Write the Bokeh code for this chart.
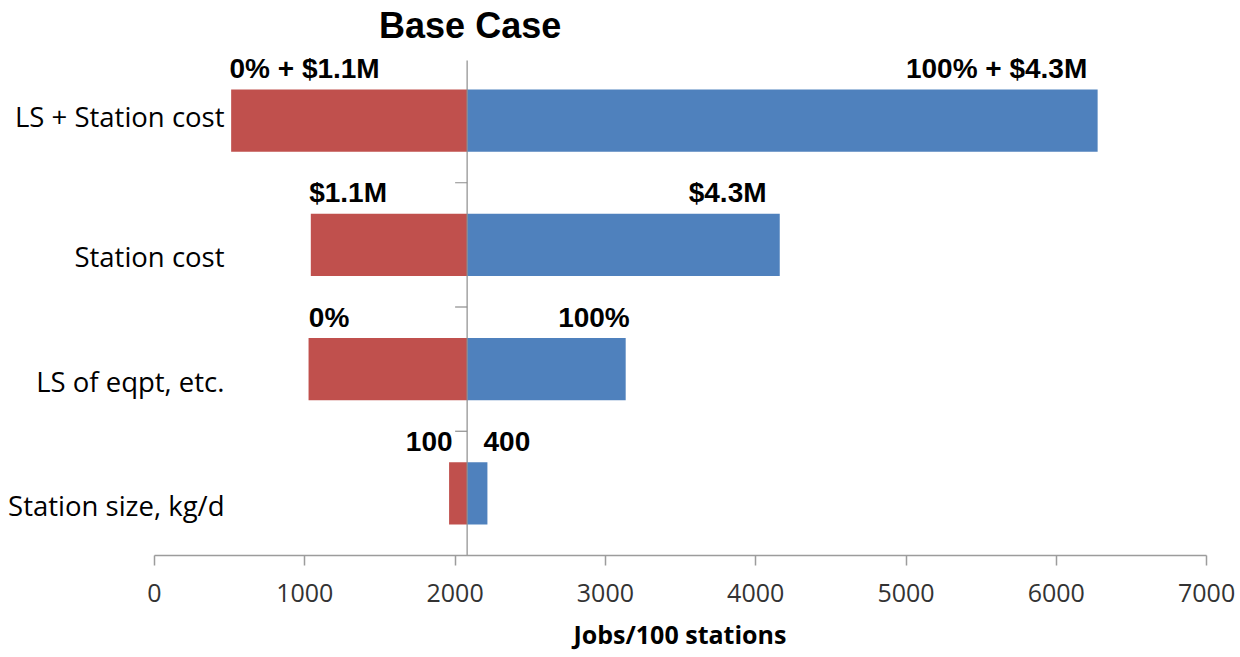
from bokeh.plotting import figure
from bokeh.models import Range1d, FixedTicker, ColumnDataSource, Title
from bokeh.core.properties import value
from bokeh.embed import file_html
from bokeh.resources import INLINE

# ---- data ----
categories = ["Station size, kg/d", "LS of eqpt, etc.", "Station cost", "LS + Station cost"]
base_value = 2080
low_values = [1960, 1025, 1040, 510]
high_values = [2215, 3135, 4160, 6275]
low_labels = ["100", "0%", "$1.1M", "0% + $1.1M"]
high_labels = ["400", "100%", "$4.3M", "100% + $4.3M"]
x_ticks = [0, 1000, 2000, 3000, 4000, 5000, 6000, 7000]
title_text = "Base Case"
x_title = "Jobs/100 stations"

# ---- annotation anchors (data units) ----
low_label_x = [1983, 1027, 1029, 499]
low_label_align = ["right", "left", "left", "left"]
high_label_x = [2189, 3162, 4072, 6206]
high_label_align = ["left", "right", "right", "right"]
cat_label_yoff = [12, 12.5, 11.5, -4.5]

RED = "#C0504D"
BLUE = "#4F81BD"
AXIS = "#9c9c9c"

n = len(categories)
ys = list(range(n))
px_per_unit = 0.1503  # pixels per data unit on x
x_start = -154 / px_per_unit
x_end = (1240 - 154) / px_per_unit
cat_px = 124.25
y_start = -0.5
y_end = -0.5 + 555 / cat_px
cat_label_x = (224 - 154) / px_per_unit

p = figure(frame_width=1240, frame_height=555, output_backend="svg", toolbar_location=None,
           x_range=Range1d(x_start, x_end), y_range=Range1d(y_start, y_end),
           min_border_left=0, min_border_right=0, min_border_top=0, min_border_bottom=102)
p.outline_line_color = None
p.xgrid.visible = False
p.ygrid.visible = False
p.yaxis.visible = False
p.background_fill_color = "white"
p.border_fill_color = "white"

src = ColumnDataSource(dict(y=ys, low=low_values, high=high_values,
                            base=[base_value] * n, cat=categories,
                            cat_x=[cat_label_x] * n,
                            lo_lab=low_labels, hi_lab=high_labels,
                            lo_x=low_label_x, lo_al=low_label_align,
                            hi_x=high_label_x, hi_al=high_label_align,
                            top=[v + 0.25 for v in ys], cyoff=cat_label_yoff))

p.hbar(y="y", left="low", right="base", height=0.5, fill_color=RED, line_color=None, source=src)
p.hbar(y="y", left="base", right="high", height=0.5, fill_color=BLUE, line_color=None, source=src)

# vertical base line and its boundary ticks
p.segment(x0=[base_value], x1=[base_value], y0=[-0.5], y1=[y_end - 60 / cat_px],
          line_color="#8c8c8c", line_width=1.2)
bounds_y = [v + 0.5 for v in ys[:-1]]
p.segment(x0=[base_value - 12 / px_per_unit] * len(bounds_y), x1=[base_value] * len(bounds_y),
          y0=bounds_y, y1=bounds_y, line_color="#8c8c8c", line_width=1.2)

# category labels
p.text(x="cat_x", y="y", text="cat", source=src,
       text_align="right", text_baseline="middle", y_offset="cyoff",
       text_font=value("Open Sans"), text_font_size="27.5px", text_color="#000000")

# value labels
p.text(x="lo_x", y="top", text="lo_lab", source=src, text_align="lo_al",
       text_baseline="alphabetic", y_offset=-21,
       text_font=value("Liberation Sans"), text_font_style="bold",
       text_font_size="28px", text_color="#000000")
p.text(x="hi_x", y="top", text="hi_lab", source=src, text_align="hi_al",
       text_baseline="alphabetic", y_offset=-21,
       text_font=value("Liberation Sans"), text_font_style="bold",
       text_font_size="28px", text_color="#000000")

# title
p.text(x=[base_value + 20], y=[y_end], text=[title_text], y_offset=25,
       text_align="center", text_baseline="alphabetic",
       text_font=value("Liberation Sans"), text_font_style="bold",
       text_font_size="36px", text_color="#000000")

# x axis
ax = p.xaxis[0]
ax.bounds = (x_ticks[0], x_ticks[-1])
ax.ticker = FixedTicker(ticks=x_ticks)
ax.minor_tick_line_color = None
ax.major_tick_in = 0
ax.major_tick_out = 10
ax.major_tick_line_color = AXIS
ax.axis_line_color = AXIS
ax.axis_line_width = 1.5
ax.major_tick_line_width = 1.5
ax.major_label_text_font = "Open Sans"
ax.major_label_text_font_size = "25px"
ax.major_label_text_color = "#333333"
ax.major_label_standoff = 18

# axis title, under the axis (placed as a side-panel title)
p.add_layout(Title(text=x_title, align="left", offset=573,
                   text_font="Open Sans", text_font_style="bold",
                   text_font_size="25px", text_color="#000000", standoff=21), "below")

open("out.html", "w").write(file_html(p, INLINE))
